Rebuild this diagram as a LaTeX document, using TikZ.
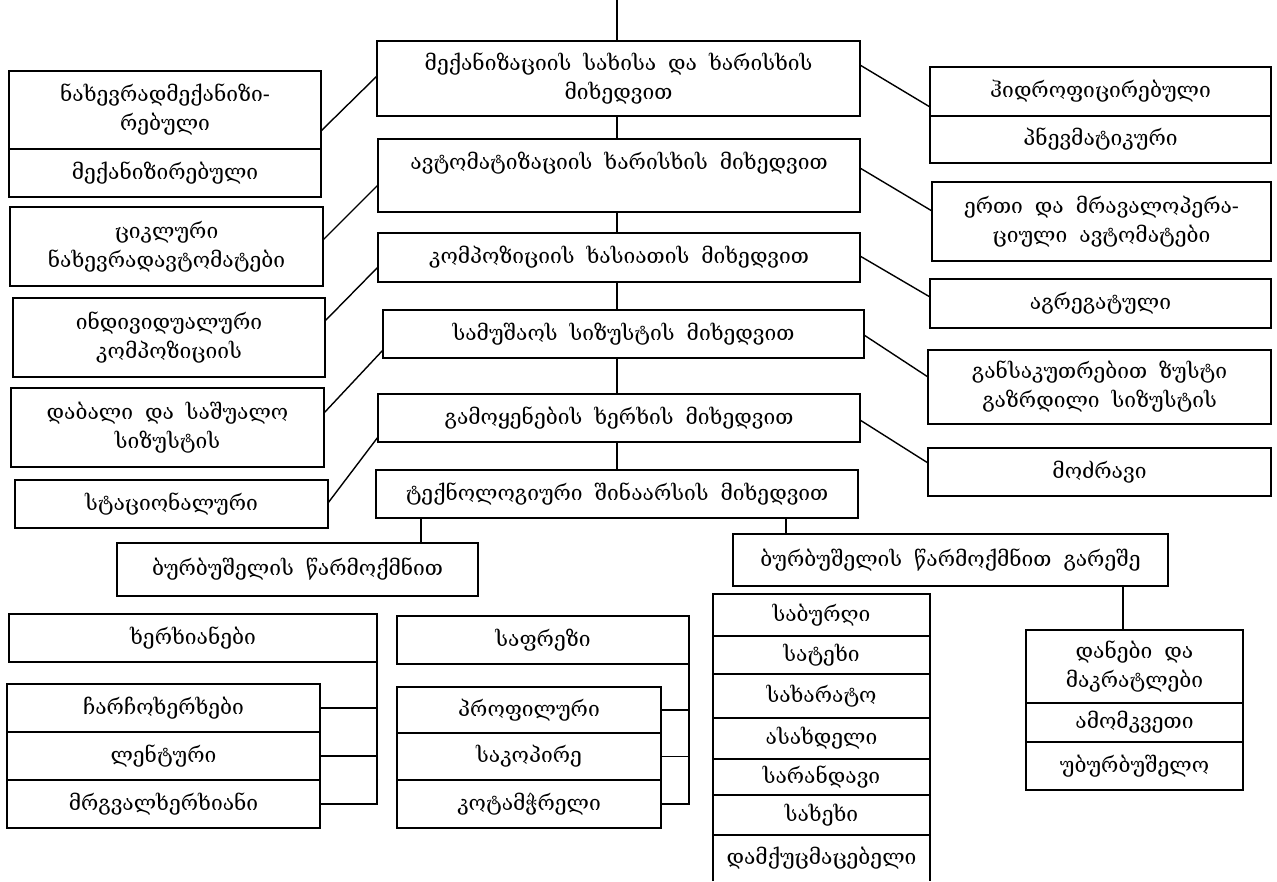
\documentclass[tikz,border=0pt]{standalone}
\usepackage{fontspec}
\setmainfont{DejaVu Serif}[WordSpace=1.8]
\usetikzlibrary{calc}
\tikzset{
  bx/.style={draw, line width=1.6pt, inner sep=0pt, outer sep=0pt, align=center,
             font=\fontsize{21}{29}\selectfont},
  link/.style={line width=1.4pt},
}
% \bx{name}{x1}{y1}{x2}{y2}{text}: box given by its corners
\newcommand\bx[6]{\node[bx, minimum width={#4-#2}, minimum height={#5-#3}]
  (#1) at ({(#2+#4)/2},{(#3+#5)/2}) {#6};}
\begin{document}
\begin{tikzpicture}[x=1pt,y=-1pt]
\useasboundingbox (0,0) rectangle (1277,881);

% central spine
\bx{c1}{377}{41}{860}{116}{მექანიზაციის სახისა და ხარისხის\\მიხედვით}
\bx{c2}{378}{139}{860}{212}{ავტომატიზაციის ხარისხის მიხედვით\\~}
\bx{c3}{378}{233}{860}{282}{კომპოზიციის ხასიათის მიხედვით}
\bx{c4}{383}{310}{864}{358}{სამუშაოს სიზუსტის მიხედვით}
\bx{c5}{378}{394}{860}{442}{გამოყენების ხერხის მიხედვით}
\bx{c6}{376}{470}{858}{518}{ტექნოლოგიური შინაარსის მიხედვით}

% left column
\bx{L1}{9}{71}{321}{149}{ნახევრადმექანიზი-\\რებული}
\bx{L1b}{9}{149}{321}{197}{მექანიზირებული}
\bx{L2}{10}{207}{323}{286}{ციკლური\\ნახევრადავტომატები}
\bx{L3}{13}{298}{325}{377}{ინდივიდუალური\\კომპოზიციის}
\bx{L4}{11}{388}{324}{467}{დაბალი და საშუალო\\სიზუსტის}
\bx{L5}{15}{480}{328}{528}{სტაციონალური}

% right column
\bx{R1}{930}{67}{1271}{116}{ჰიდროფიცირებული}
\bx{R1b}{930}{116}{1271}{163}{პნევმატიკური}
\bx{R2}{932}{182}{1271}{261}{ერთი და მრავალოპერა-\\ციული ავტომატები}
\bx{R3}{930}{279}{1271}{328}{აგრეგატული}
\bx{R4}{928}{350}{1271}{424}{განსაკუთრებით ზუსტი\\გაზრდილი სიზუსტის}
\bx{R5}{928}{448}{1271}{496}{მოძრავი}

% two branches of the last criterion
\bx{B1}{117}{543}{478}{596}{ბურბუშელის წარმოქმნით}
\bx{B2}{733}{534}{1168}{586}{ბურბუშელის წარმოქმნით გარეშე}

% saws
\bx{S1}{9}{614}{377}{662}{ხერხიანები}
\bx{S2}{7}{684}{320}{732}{ჩარჩოხერხები}
\bx{S3}{7}{732}{320}{780}{ლენტური}
\bx{S4}{7}{780}{320}{828}{მრგვალხერხიანი}

% milling
\bx{F1}{397}{616}{689}{664}{საფრეზი}
\bx{F2}{397}{687}{661}{733}{პროფილური}
\bx{F3}{397}{733}{661}{780}{საკოპირე}
\bx{F4}{397}{780}{661}{828}{კოტამჭრელი}

% chipless list
\bx{K1}{713}{594}{930}{636}{საბურღი}
\bx{K2}{713}{636}{930}{674}{სატეხი}
\bx{K3}{713}{674}{930}{718}{სახარატო}
\bx{K4}{713}{718}{930}{759}{ასახდელი}
\bx{K5}{713}{759}{930}{795}{სარანდავი}
\bx{K6}{713}{795}{930}{835}{სახეხი}
\node[bx, draw=none, minimum width=217, minimum height=46] (K7) at (821.5,858) {დამქუცმაცებელი};
\draw[line width=1.6pt] (K7.south west) -- (K7.north west) -- (K7.north east) -- (K7.south east);

\bx{D1}{1026}{630}{1243}{703}{დანები და\\მაკრატლები}
\bx{D2}{1026}{703}{1243}{742}{ამომკვეთი}
\bx{D3}{1026}{742}{1243}{790}{უბურბუშელო}

% spine connectors
\coordinate (top) at (617,0);
\draw[link] (top) -- (c1.north -| top);
\draw[link] (c1.south -| top) -- (c2.north -| top);
\draw[link] (c2.south -| top) -- (c3.north -| top);
\draw[link] (c3.south -| top) -- (c4.north -| top);
\draw[link] (c4.south -| top) -- (c5.north -| top);
\draw[link] (c5.south -| top) -- (c6.north -| top);

% left branches
\draw[link] ([yshift=-60pt]L1.north east) -- ([yshift=-35pt]c1.north west);
\draw[link] ([yshift=-33pt]L2.north east) -- ([yshift=-46pt]c2.north west);
\draw[link] ([yshift=-23pt]L3.north east) -- ([yshift=-34pt]c3.north west);
\draw[link] ([yshift=-25pt]L4.north east) -- ([yshift=-40pt]c4.north west);
\draw[link] ([yshift=-23pt]L5.north east) -- ([yshift=-43pt]c5.north west);

% right branches
\draw[link] ([yshift=-24pt]c1.north east) -- ([yshift=-40pt]R1.north west);
\draw[link] ([yshift=-29pt]c2.north east) -- ([yshift=-29pt]R2.north west);
\draw[link] ([yshift=-23pt]c3.north east) -- ([yshift=-18pt]R3.north west);
\draw[link] ([yshift=-25pt]c4.north east) -- ([yshift=-27pt]R4.north west);
\draw[link] ([yshift=-26pt]c5.north east) -- ([yshift=-15pt]R5.north west);

% lower branches
\draw[link] ([xshift=45pt]c6.south west) coordinate (t1) -- (t1 |- B1.north);
\draw[link] ([xshift=410pt]c6.south west) coordinate (t2) -- (t2 |- B2.north);
\draw[link] ([xshift=-45pt]B2.south east) coordinate (t3) -- (t3 |- D1.north);

% brackets
\draw[link] (S1.south east) |- (S4.east);
\draw[link] (S2.east) -- (S2.east -| S1.east);
\draw[link] (S3.east) -- (S3.east -| S1.east);
\draw[link] (F1.south east) |- (F4.east);
\draw[link] (F2.east) -- (F2.east -| F1.east);
\draw[link] (F3.east) -- (F3.east -| F1.east);
\end{tikzpicture}
\end{document}
